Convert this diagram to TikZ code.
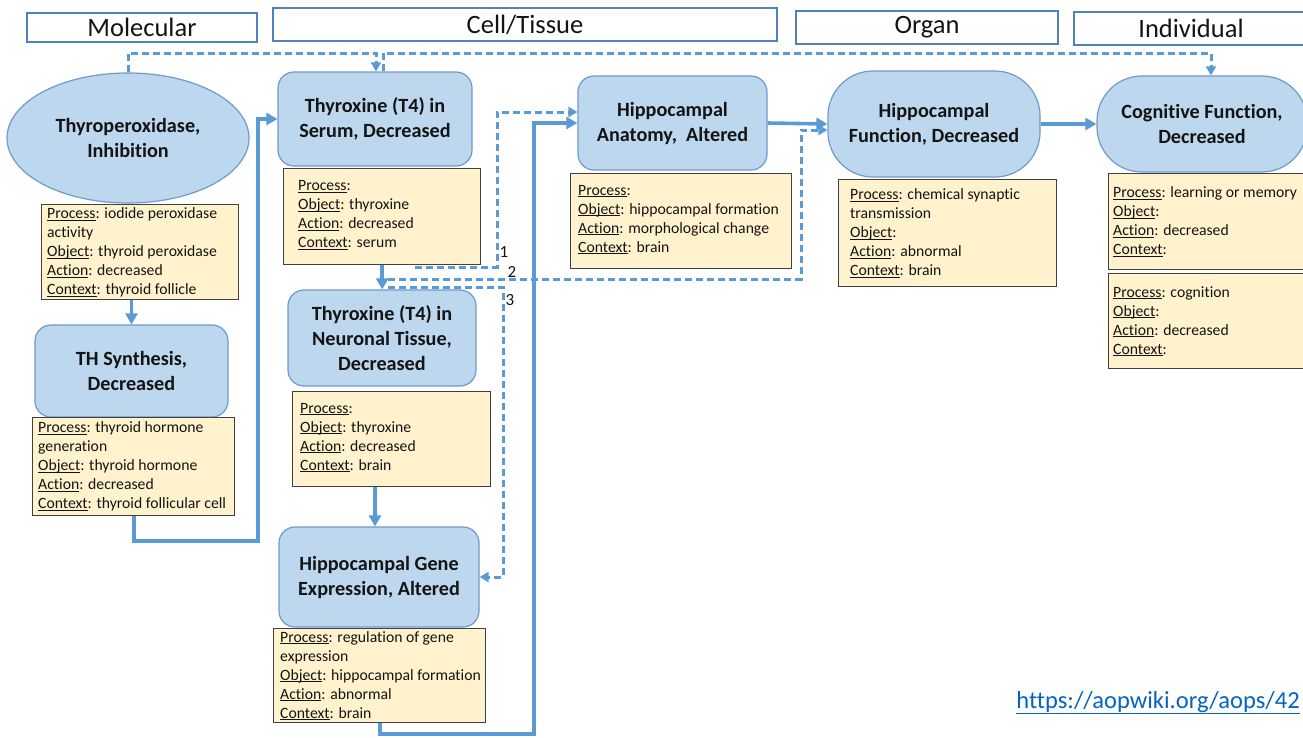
\documentclass[tikz,border=0pt]{standalone}
\usepackage{fontspec}
\setmainfont{Carlito}[Ligatures={NoCommon}]
\usetikzlibrary{arrows.meta,shapes.geometric,calc}

\definecolor{kefill}{RGB}{189,215,238}
\definecolor{keline}{RGB}{110,155,205}
\definecolor{annfill}{RGB}{255,242,204}
\definecolor{annline}{RGB}{64,64,64}
\definecolor{flow}{RGB}{91,155,213}
\definecolor{hdrline}{RGB}{80,130,190}
\definecolor{ink}{RGB}{20,20,20}
\definecolor{link}{RGB}{5,99,193}

% underlined field name followed by a colon
\newcommand{\fld}[1]{\underline{\smash{#1}}:}

\begin{document}
\begin{tikzpicture}[x=1pt,y=-1pt,
  hdr/.style={draw=hdrline, line width=1.3pt, fill=white, inner sep=0pt,
    font=\fontsize{26.5}{30}\selectfont, text=ink},
  ke/.style={draw=keline, line width=1.2pt, fill=kefill, rounded corners=16pt,
    inner sep=0pt, align=center, font=\fontsize{20.2}{25}\selectfont\bfseries, text=ink},
  kestadium/.style={ke, rounded corners=45pt},
  kemie/.style={draw=keline, line width=1.2pt, fill=kefill, ellipse, inner sep=0pt,
    align=center, font=\fontsize{20.2}{25}\selectfont\bfseries, text=ink},
  annbox/.style={draw=annline, line width=1.4pt, fill=annfill, anchor=north west, inner sep=0pt},
  anntext/.style={anchor=west, align=left, inner sep=0pt, font=\fontsize{15.7}{19}\selectfont, text=ink},
  solidarrow/.style={draw=flow, line width=3.6pt, -{Triangle[length=11pt,width=12pt]}},
  dasharrow/.style={draw=flow, line width=3pt, dash pattern=on 7pt off 4pt,
    -{Triangle[length=9pt,width=10pt]}},
  num/.style={font=\fontsize{17}{17}\selectfont, text=ink, inner sep=0pt}
]
\useasboundingbox (0,0) rectangle (1303,737);
\clip (0,0) rectangle (1303,737);
\fill[white] (0,0) rectangle (1303,737);

% level headers
\node[hdr, minimum width=230, minimum height=29] (hmol) at (142,27.5) {Molecular};
\node[hdr, minimum width=504, minimum height=33] (hcell) at (525,24.5) {Cell/Tissue};
\node[hdr, minimum width=262, minimum height=33] (horg) at (927,27.5) {Organ};
\node[hdr, minimum width=234, minimum height=33] (hind) at (1191,28.5) {Individual};

% key events
\node[kemie, minimum width=242, minimum height=130] (kTPO) at (128,138) {Thyroperoxidase,\\Inhibition};
\node[ke, minimum width=193, minimum height=92] (kTH) at (131.5,371) {TH Synthesis,\\Decreased};
\node[ke, minimum width=194, minimum height=94] (kT4s) at (375,119) {Thyroxine (T4) in\\Serum, Decreased};
\node[ke, minimum width=188, minimum height=96] (kT4n) at (382,338) {Thyroxine (T4) in\\Neuronal Tissue,\\Decreased};
\node[ke, minimum width=200, minimum height=100] (kGene) at (379,577) {Hippocampal Gene\\Expression, Altered};
\node[ke, minimum width=189, minimum height=94] (kAnat) at (672.5,123) {Hippocampal\\Anatomy,\ \ Altered};
\node[kestadium, minimum width=212, minimum height=106] (kFunc) at (934,124) {Hippocampal\\Function, Decreased};
\node[kestadium, minimum width=210, minimum height=96] (kCog) at (1202,124) {Cognitive Function,\\Decreased};

% annotation boxes
\node[annbox, minimum width=197, minimum height=95] (aTPO) at (41,204) {};
\node[anntext] (tTPO) at ([xshift=6pt]aTPO.west) {\fld{Process} iodide peroxidase\\activity\\\fld{Object} thyroid peroxidase\\\fld{Action} decreased\\\fld{Context} thyroid follicle};

\node[annbox, minimum width=202, minimum height=98] (aTH) at (32,417) {};
\node[anntext] (tTH) at ([xshift=6pt]aTH.west) {\fld{Process} thyroid hormone\\generation\\\fld{Object} thyroid hormone\\\fld{Action} decreased\\\fld{Context} thyroid follicular cell};

\node[annbox, minimum width=197, minimum height=96] (aT4s) at (283,168) {};
\node[anntext] (tT4s) at ([xshift=15pt]aT4s.west) {\fld{Process}\\\fld{Object} thyroxine\\\fld{Action} decreased\\\fld{Context} serum};

\node[annbox, minimum width=198, minimum height=95] (aT4n) at (292,391) {};
\node[anntext] (tT4n) at ([xshift=8pt]aT4n.west) {\fld{Process}\\\fld{Object} thyroxine\\\fld{Action} decreased\\\fld{Context} brain};

\node[annbox, minimum width=212, minimum height=94] (aGene) at (273,628) {};
\node[anntext] (tGene) at ([xshift=7pt]aGene.west) {\fld{Process} regulation of gene\\expression\\\fld{Object} hippocampal formation\\\fld{Action} abnormal\\\fld{Context} brain};

\node[annbox, minimum width=221, minimum height=95] (aAnat) at (570,173) {};
\node[anntext] (tAnat) at ([xshift=8pt]aAnat.west) {\fld{Process}\\\fld{Object} hippocampal formation\\\fld{Action} morphological change\\\fld{Context} brain};

\node[annbox, minimum width=218, minimum height=107] (aFunc) at (838,179) {};
\node[anntext] (tFunc) at ([xshift=12pt]aFunc.west) {\fld{Process} chemical synaptic\\transmission\\\fld{Object}\\\fld{Action} abnormal\\\fld{Context} brain};

\node[annbox, minimum width=200, minimum height=96] (aCog1) at (1108,173) {};
\node[anntext] (tCog1) at ([xshift=5pt]aCog1.west) {\fld{Process} learning or memory\\\fld{Object}\\\fld{Action} decreased\\\fld{Context}};

\node[annbox, minimum width=200, minimum height=95] (aCog2) at (1108,273) {};
\node[anntext] (tCog2) at ([xshift=5pt]aCog2.west) {\fld{Process} cognition\\\fld{Object}\\\fld{Action} decreased\\\fld{Context}};

% routing points
\coordinate (j1) at (258,541);
\coordinate (j2) at (534,734);
\coordinate (t1) at (376,53);
\coordinate (t2) at (383,53);
\coordinate (t3) at (1211,53);
\coordinate (s1) at (415,267);
\coordinate (d1) at (497,267);
\coordinate (s2) at (388,279);
\coordinate (d2) at (801,279);
\coordinate (s3) at (388,287);
\coordinate (d3) at (503,287);
\coordinate (g1) at (375,0);

% adjacent relationships
\draw[solidarrow] (kTH.north |- aTPO.south) -- (kTH.north);
\draw[solidarrow] (aTH.south) |- (j1) |- (kT4s.west);
\draw[solidarrow] (aT4s.south) -- (aT4s.south |- kT4n.north);
\draw[solidarrow] (g1 |- aT4n.south) -- (g1 |- kGene.north);
\draw[solidarrow] (aGene.south) |- (j2) |- (kAnat.west);
\draw[solidarrow] (kAnat.east) -- (kFunc.west);
\draw[solidarrow] (kFunc.east) -- (kCog.west);

% non-adjacent relationships
\draw[dasharrow] (kTPO.north) |- (t1) -- (t1 |- kT4s.north);
\draw[dasharrow] (t2 |- kT4s.north) -- (t2) -- (t3) -- (t3 |- kCog.north);
\draw[dasharrow] (s1) -- (d1) |- ([yshift=11pt]kAnat.west);
\draw[dasharrow] (s2) -- (d2) |- ([yshift=-6pt]kFunc.west);
\draw[dasharrow] (s3) -- (d3) |- (kGene.east);

\node[num] (n1) at (504,252) {1};
\node[num] (n2) at (512,272) {2};
\node[num] (n3) at (510,300) {3};

\node[anchor=base east, inner sep=0pt, font=\fontsize{24.5}{24.5}\selectfont, text=link] (url) at (1300,708) {\underline{https://aopwiki.org/aops/42}};
\end{tikzpicture}
\end{document}
